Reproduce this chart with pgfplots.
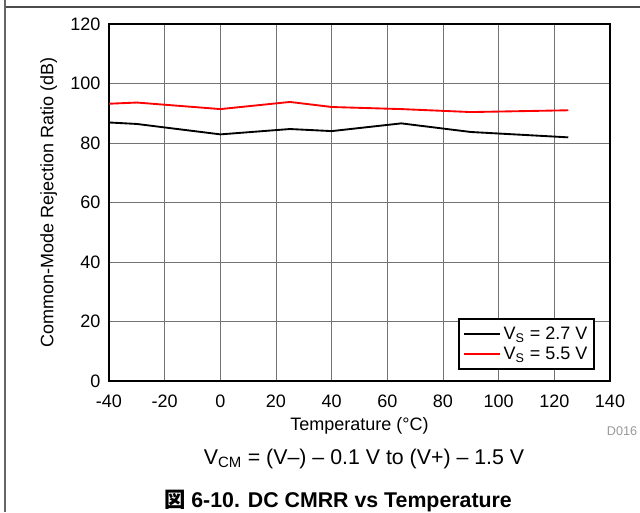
\documentclass[border=0pt]{standalone}
\usepackage{fontspec}
\setmainfont{Liberation Sans}
\newfontfamily\cjk{Noto Sans CJK JP}
\usepackage{pgfplots}
\pgfplotsset{compat=1.18}
\begin{document}
\begin{tikzpicture}
\useasboundingbox (0pt,0pt) rectangle (480pt,384pt);
\draw[line width=1pt, black!70] (3pt,378.75pt) -- (480pt,378.75pt);
\draw[line width=1.2pt, black!60] (3.75pt,0pt) -- (3.75pt,384pt);
\begin{axis}[
  at={(81.75pt,98.25pt)}, anchor=south west,
  scale only axis, width=375.75pt, height=267.75pt,
  xmin=-40, xmax=140, ymin=0, ymax=120,
  xtick={-40,-20,...,140}, ytick={0,20,...,120},
  grid=major, major grid style={black!55, line width=0.6pt},
  major tick length=0pt,
  axis line style={line width=1.7pt},
  /pgf/number format/assume math mode=true,
  ticklabel style={font=\fontsize{13.5}{16}\selectfont},
  xticklabel style={yshift=-7pt},
  yticklabel style={xshift=-3pt},
  xlabel={Temperature (\textdegree C)},
  ylabel={Common-Mode Rejection Ratio (dB)},
  xlabel style={font=\fontsize{13.5}{16}\selectfont, yshift=-0.5pt},
  ylabel style={font=\fontsize{13.5}{16}\selectfont, yshift=3pt},
  legend pos=south east,
  legend cell align=left,
  legend style={draw=black, line width=1.5pt, font=\fontsize{13.5}{16}\selectfont,
    inner xsep=3pt, inner ysep=4pt, row sep=0pt},
  legend image post style={line width=1.4pt},
  legend image code/.code={\draw[#1] (0cm,0cm) -- (0.95cm,0cm);},
]
\addplot[black, line width=1.4pt] coordinates {
(-40,86.9) (-30,86.4) (0,82.9) (25,84.7) (40,84.0) (65,86.6) (90,83.7) (125,81.9)};
\addlegendentry{V\textsubscript{S} = 2.7 V}
\addplot[red, line width=1.4pt] coordinates {
(-40,93.2) (-30,93.6) (0,91.4) (25,93.8) (40,92.1) (65,91.4) (90,90.4) (125,91.0)};
\addlegendentry{V\textsubscript{S} = 5.5 V}
\end{axis}
\node[font=\fontsize{9.5}{10}\selectfont, text=black!40] at (466.5pt,60.75pt) {D016};
\node[font=\fontsize{16}{18}\selectfont] at (273pt,39.75pt) {V\textsubscript{CM} = (V--) -- 0.1 V to (V+) -- 1.5 V};
\node[font=\fontsize{16}{18}\selectfont\bfseries] at (253.5pt,8.5pt) {{\cjk\bfseries 図} 6-10. DC CMRR vs Temperature};
\end{tikzpicture}
\end{document}
